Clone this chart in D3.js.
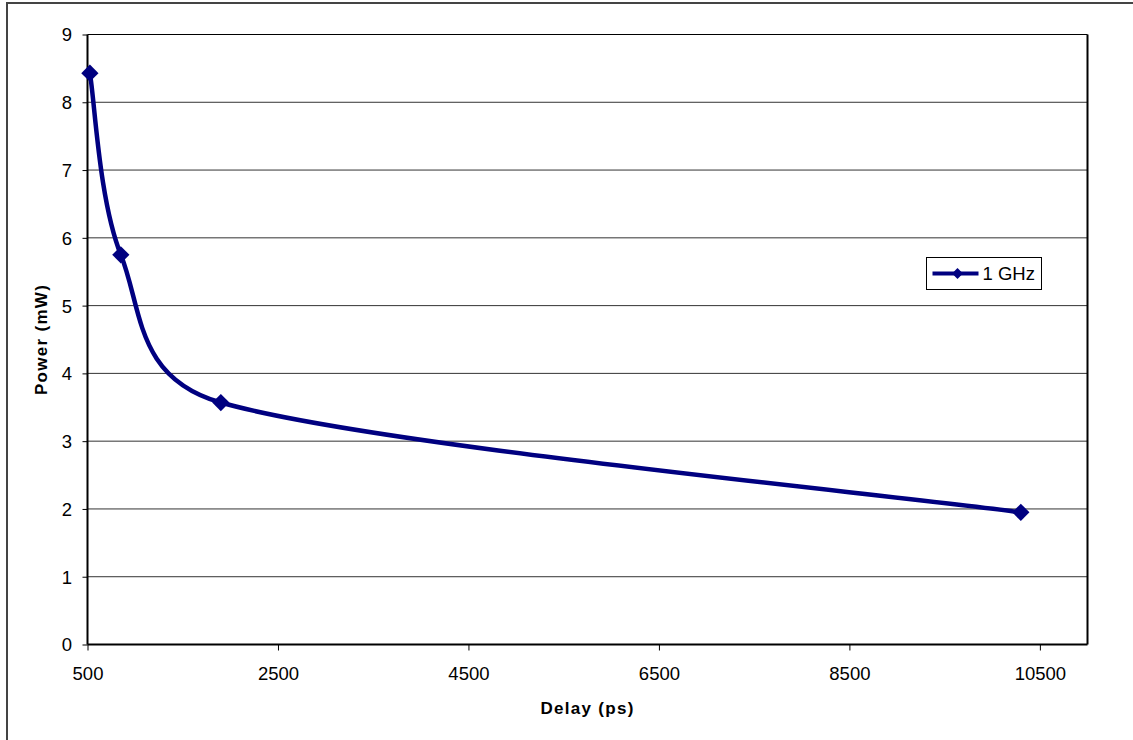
<!DOCTYPE html>
<html>
<head>
<meta charset="utf-8">
<script src="https://cdn.jsdelivr.net/npm/d3@7"></script>
<style>
  body { margin: 0; background: #fff; }
  svg { display: block; font-family: Arial, "Liberation Sans", sans-serif; }
</style>
</head>
<body>
<svg id="chart" width="1133" height="740"></svg>
<script>
// data
var delay = [525, 850, 1900, 10300];
var power = [8.43, 5.75, 3.57, 1.95];
var seriesName = "1 GHz";
var xTicks = [500, 2500, 4500, 6500, 8500, 10500];
var yTicks = [0, 1, 2, 3, 4, 5, 6, 7, 8, 9];

var svg = d3.select("#chart");
var margin = {left: 87.5, top: 34.5, right: 1087.5, bottom: 644.5};
var navy = "#000080";

// excel-ish smoothing: catmull-rom arms of 1/6, each arm kept under half its segment
function excelSmooth(context) {
    var pts;
    return {
        areaStart: function() {},
        areaEnd: function() {},
        lineStart: function() { pts = []; },
        point: function(x, y) { pts.push([+x, +y]); },
        lineEnd: function() {
            var n = pts.length;
            if (!n) return;
            context.moveTo(pts[0][0], pts[0][1]);
            function arm(i, dir) {
                var a = pts[Math.max(i - 1, 0)], b = pts[Math.min(i + 1, n - 1)];
                var dx = (b[0] - a[0]) / 6, dy = (b[1] - a[1]) / 6;
                var o = pts[i + dir];
                var seg = Math.hypot(o[0] - pts[i][0], o[1] - pts[i][1]);
                var len = Math.hypot(dx, dy);
                var k = len > seg / 2 ? (seg / 2) / len : 1;
                return [dx * k * dir, dy * k * dir];
            }
            for (var i = 0; i < n - 1; i++) {
                var p = pts[i], q = pts[i + 1];
                var a1 = arm(i, 1), a2 = arm(i + 1, -1);
                context.bezierCurveTo(p[0] + a1[0], p[1] + a1[1], q[0] + a2[0], q[1] + a2[1], q[0], q[1]);
            }
        }
    };
}

// outer chart border
svg.append("rect")
    .attr("x", 7).attr("y", 3)
    .attr("width", 1140).attr("height", 760)
    .attr("fill", "#fff").attr("stroke", "#444").attr("stroke-width", 2);

var x = d3.scaleLinear().domain([500, 11000]).range([margin.left, margin.right]);
var y = d3.scaleLinear().domain([0, 9]).range([margin.bottom, margin.top]);

// gridlines
svg.append("g").selectAll("line")
    .data(yTicks.filter(function(d) { return d > 0; }))
    .enter().append("line")
    .attr("x1", margin.left).attr("x2", margin.right)
    .attr("y1", function(d) { return y(d); }).attr("y2", function(d) { return y(d); })
    .attr("stroke", function(d) { return d == 9 ? "#000" : "#333"; })
    .attr("stroke-width", 1);

// plot right border
svg.append("line")
    .attr("x1", margin.right).attr("x2", margin.right)
    .attr("y1", margin.top).attr("y2", margin.bottom)
    .attr("stroke", "#000").attr("stroke-width", 2);

// axes
var yAxis = d3.axisLeft(y).tickValues(yTicks).tickSize(5).tickPadding(10.5).tickFormat(d3.format("d"));
var xAxis = d3.axisBottom(x).tickValues(xTicks).tickSize(6).tickPadding(16).tickFormat(d3.format("d"));

var gy = svg.append("g").attr("transform", "translate(" + margin.left + ",0)").call(yAxis);
var gx = svg.append("g").attr("transform", "translate(0," + margin.bottom + ")").call(xAxis);

[gx, gy].forEach(function(g) {
    g.attr("font-family", null).attr("font-size", null);
    g.select(".domain").attr("stroke", "#000").attr("stroke-width", 2)
        .attr("d", g === gx
            ? "M" + margin.left + ",0H" + margin.right
            : "M0," + margin.bottom + "V" + margin.top);
    g.selectAll(".tick line").attr("stroke", "#000");
    g.selectAll(".tick text").attr("fill", "#000").style("font-size", "18.5px");
});
gy.selectAll(".tick text").attr("dy", "0.35em");

// axis titles
svg.append("text")
    .attr("x", (margin.left + margin.right) / 2).attr("y", 714)
    .attr("text-anchor", "middle").style("font-size", "17px").style("font-weight", "bold")
    .style("letter-spacing", "1.3px")
    .text("Delay (ps)");
svg.append("text")
    .attr("transform", "translate(47," + ((margin.top + margin.bottom) / 2) + ") rotate(-90)")
    .attr("text-anchor", "middle").style("font-size", "17px").style("font-weight", "bold")
    .style("letter-spacing", "1.3px")
    .text("Power (mW)");

// series
var points = delay.map(function(d, i) { return [d, power[i]]; });
var line = d3.line()
    .x(function(d) { return x(d[0]); })
    .y(function(d) { return y(d[1]); })
    .curve(excelSmooth);

svg.append("path")
    .datum(points)
    .attr("d", line)
    .attr("fill", "none").attr("stroke", navy).attr("stroke-width", 4.5)
    .attr("stroke-linejoin", "round");

var diamond = d3.symbol().type(d3.symbolDiamond2).size(190);
svg.append("g").selectAll("path")
    .data(points)
    .enter().append("path")
    .attr("d", diamond)
    .attr("transform", function(d) { return "translate(" + x(d[0]) + "," + y(d[1]) + ")"; })
    .attr("fill", navy);

// legend
var legend = svg.append("g").attr("transform", "translate(926.5,257.5)");
legend.append("rect")
    .attr("width", 115).attr("height", 32)
    .attr("fill", "#fff").attr("stroke", "#000").attr("stroke-width", 1);
legend.append("line")
    .attr("x1", 6).attr("x2", 52).attr("y1", 16).attr("y2", 16)
    .attr("stroke", navy).attr("stroke-width", 4);
legend.append("path")
    .attr("d", d3.symbol().type(d3.symbolDiamond2).size(75))
    .attr("transform", "translate(31,16)")
    .attr("fill", navy);
legend.append("text")
    .attr("x", 56).attr("y", 16).attr("dy", "0.35em")
    .style("font-size", "18.5px")
    .text(seriesName);
</script>
</body>
</html>
